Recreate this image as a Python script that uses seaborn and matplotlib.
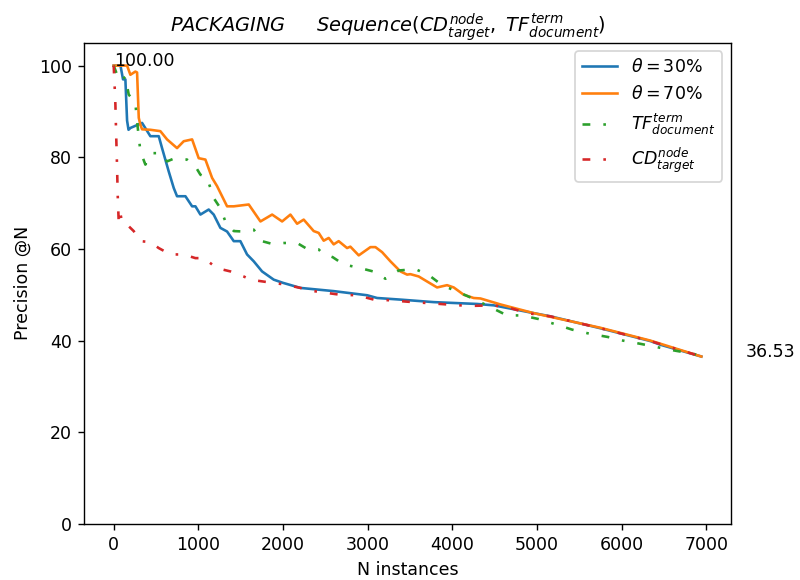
import matplotlib
matplotlib.use("Agg")
import matplotlib.pyplot as plt
import seaborn as sns

# ---- data ----
blue_x = [0, 80, 110, 138, 158, 175, 198, 335, 433, 532, 571, 650, 709, 748, 847, 926, 965,
          1024, 1122, 1181, 1260, 1339, 1418, 1496, 1575, 1654, 1752, 1890, 2000, 2205, 2599,
          2993, 3111, 3386, 3780, 4292, 4488, 4960, 5157, 5748, 6339, 6457, 6940]
blue_y = [100, 100, 97, 97, 88, 86, 86.4, 87.5, 84.6, 84.6, 82.0, 76.9, 73.3, 71.5, 71.5, 69.3,
          69.3, 67.5, 68.6, 67.5, 64.6, 63.8, 61.7, 61.7, 58.8, 57.3, 55.1, 53.3, 52.6, 51.5,
          50.8, 49.9, 49.3, 48.95, 48.4, 48.0, 47.7, 46.0, 45.3, 42.7, 39.9, 39.1, 36.53]

orange_x = [0, 158, 197, 256, 276, 296, 315, 335, 433, 551, 630, 748, 827, 926, 1004, 1083,
            1162, 1221, 1339, 1418, 1595, 1733, 1871, 1989, 2087, 2166, 2244, 2362, 2421, 2480,
            2539, 2598, 2657, 2756, 2795, 2894, 3032, 3091, 3170, 3268, 3386, 3465, 3504, 3602,
            3701, 3819, 3937, 4016, 4134, 4252, 4331, 4567, 4960, 5748, 6339, 6940]
orange_y = [100, 100, 98.0, 98.7, 98.5, 88.6, 87.1, 86.1, 86.0, 85.7, 83.9, 82.0, 83.5, 83.9,
            79.8, 79.5, 75.5, 73.7, 69.3, 69.3, 69.7, 66.0, 67.5, 66.0, 67.5, 65.5, 66.4, 63.9,
            63.5, 61.8, 62.4, 61.0, 61.7, 60.2, 60.5, 58.6, 60.4, 60.4, 59.3, 57.3, 55.1, 54.4,
            54.5, 54.0, 52.9, 51.6, 52.1, 51.6, 50.0, 49.3, 49.2, 47.9, 46.0, 42.8, 40.0, 36.53]

tf_x = [0, 40, 79, 138, 177, 256, 276, 315, 374, 453, 551, 630, 709, 866, 965, 1024, 1103,
        1181, 1260, 1319, 1418, 1535, 1654, 1752, 1871, 2008, 2166, 2284, 2421, 2461, 2587,
        2717, 2874, 3063, 3209, 3366, 3563, 3721, 3878, 4095, 4252, 4449, 4646, 4823, 5020,
        5229, 5414, 5622, 5835, 6016, 6221, 6437, 6634, 6850, 6940]
tf_y = [100, 98, 96.6, 97.6, 93.7, 91.8, 87.8, 81.3, 78.4, 80.9, 80.9, 79.1, 79.7, 79.5, 78.0,
        76.2, 75.5, 71.1, 68.9, 66.0, 63.9, 63.8, 64.2, 61.7, 61.1, 61.3, 61.3, 60.0, 59.9,
        59.1, 58.2, 56.6, 56.0, 55.1, 53.5, 55.3, 55.6, 54.3, 52.1, 50.4, 49.1, 47.3, 45.5,
        45.5, 44.7, 43.5, 42.4, 41.5, 40.8, 40.0, 39.3, 38.5, 37.8, 37.1, 36.53]

cd_x = [0, 12, 20, 28, 40, 47, 59, 79, 99, 158, 236, 315, 433, 531, 670, 827, 965, 1063, 1221,
        1378, 1535, 1614, 1800, 2000, 2205, 2362, 2677, 2874, 3071, 3268, 3465, 3858, 4075,
        4272, 4488, 4685, 4882, 5157, 5748, 6339, 6940]
cd_y = [100, 95.1, 91.5, 85.7, 77.7, 71.9, 66.0, 67.8, 65.7, 65.3, 63.9, 61.7, 61.5, 60.2,
        58.8, 58.8, 58.0, 58.0, 55.8, 55.1, 54.0, 53.3, 52.8, 52.3, 51.5, 50.8, 50.0, 49.9,
        48.95, 48.8, 48.5, 48.0, 47.7, 47.6, 47.7, 47.1, 46.0, 45.3, 42.7, 39.9, 36.53]

labels = [r"$\theta = 30\%$", r"$\theta = 70\%$", r"$TF_{document}^{term}$", r"$CD_{target}^{node}$"]
start_label = "100.00"
end_label = "36.53"

# ---- figure ----
fig, ax = plt.subplots(figsize=(6.4, 4.64), dpi=125)
fig.subplots_adjust(left=0.1054, right=0.9134, bottom=0.0966, top=0.9264)

dashdot = (0, (3, 5, 1, 5))
sns.lineplot(x=blue_x, y=blue_y, ax=ax, color="#1f77b4", label=labels[0],
             estimator=None, sort=False, lw=1.5)
sns.lineplot(x=orange_x, y=orange_y, ax=ax, color="#ff7f0e", label=labels[1],
             estimator=None, sort=False, lw=1.5)
sns.lineplot(x=tf_x, y=tf_y, ax=ax, color="#2ca02c", label=labels[2],
             estimator=None, sort=False, lw=1.5, linestyle=dashdot)
sns.lineplot(x=cd_x, y=cd_y, ax=ax, color="#d62728", label=labels[3],
             estimator=None, sort=False, lw=1.5, linestyle=dashdot)

ax.set_ylim(0, 105)
ax.set_xticks([0, 1000, 2000, 3000, 4000, 5000, 6000, 7000])
ax.set_yticks([0, 20, 40, 60, 80, 100])
ax.set_xlabel("N instances")
ax.set_ylabel("Precision @N")
ax.set_title(r"$PACKAGING\ \ \ \ \ Sequence(CD_{target}^{node},\ TF_{document}^{term})$",
             x=0.47, fontsize=11.2)

ax.text(blue_x[0], blue_y[0], start_label)
ax.text(blue_x[-1] + 520, blue_y[-1], end_label)

ax.legend(loc="upper right")
fig.savefig("out.png", dpi=125)
